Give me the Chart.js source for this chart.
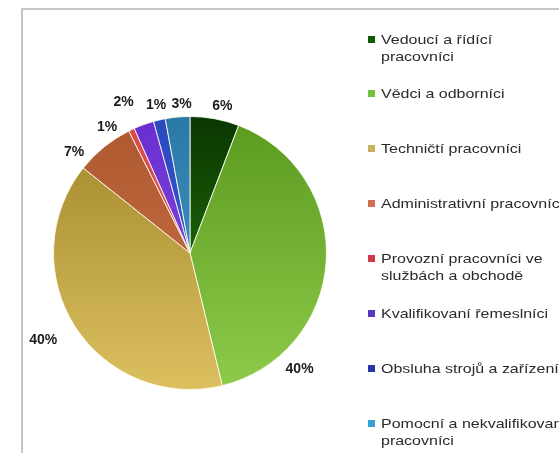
<!DOCTYPE html>
<html>
<head>
<meta charset="utf-8">
<script src="https://cdn.jsdelivr.net/npm/chart.js@4.4.1/dist/chart.umd.min.js"></script>
<style>
  html, body { margin: 0; padding: 0; background: #fff; overflow: hidden; width: 559px; height: 453px; }
  #frame { position: absolute; left: 21px; top: 8px; width: 600px; height: 500px;
           border-left: 2px solid #c6c6c6; border-top: 2px solid #c6c6c6; }
  #chart { position: absolute; left: 0; top: 0; }
  #legend { position: absolute; left: 0; top: 0; width: 559px; height: 453px; }
  .item { position: absolute; left: 368px; white-space: nowrap; font: 13px "Liberation Sans", Arial, sans-serif;
          color: #2b2b2b; line-height: 17px; }
  .sw { position: absolute; left: 0; top: 5px; width: 7px; height: 7px; }
  .txt { position: absolute; left: 13px; top: 0; transform: scaleX(1.23); transform-origin: 0 0; }
</style>
</head>
<body>
<div id="frame"></div>
<canvas id="chart" width="559" height="453"></canvas>
<div id="legend"></div>
<script>
const categories = [
  ['Vedoucí a řídící', 'pracovníci'],
  ['Vědci a odborníci'],
  ['Techničtí pracovníci'],
  ['Administrativní pracovníci'],
  ['Provozní pracovníci ve', 'službách a obchodě'],
  ['Kvalifikovaní řemeslníci'],
  ['Obsluha strojů a zařízení'],
  ['Pomocní a nekvalifikovaní', 'pracovníci']
];
const shares = [5.8, 40.4, 39.5, 6.9, 0.7, 2.4, 1.4, 2.9];
const shareLabels = ['6%', '40%', '40%', '7%', '1%', '2%', '1%', '3%'];

// gradient colours, darker at top
const topColors = ['#0a3600', '#5a9a20', '#a0862a', '#ae5830', '#d84848', '#6a2ed0', '#2a48c0', '#2a78a6'];
const bottomColors = ['#2a8a10', '#8ecb4a', '#dcc060', '#cc7448', '#e86262', '#8650e2', '#4262da', '#4aa2ce'];
const swatchColors = ['#0b5e00', '#78c040', '#c8b060', '#d07050', '#d03848', '#5838c0', '#2838a8', '#38a0d8'];

// label placement tweaks: [angle shift in degrees, distance beyond the rim]
const labelTweaks = [[2, 14], [43, 23], [2, 34], [-10, 17], [-8, 14], [-4, 28], [0, 15], [2, 13]];

const pctLabels = {
  id: 'pctLabels',
  afterDatasetsDraw(chart) {
    const ctx = chart.ctx;
    const arcs = chart.getDatasetMeta(0).data;
    ctx.save();
    ctx.font = 'bold 14px "Liberation Sans", Arial, sans-serif';
    ctx.fillStyle = '#1c1c1c';
    ctx.textAlign = 'center';
    ctx.textBaseline = 'middle';
    arcs.forEach((arc, i) => {
      const p = arc.getProps(['x', 'y', 'startAngle', 'endAngle', 'outerRadius'], true);
      const a = (p.startAngle + p.endAngle) / 2 + labelTweaks[i][0] * Math.PI / 180;
      const d = p.outerRadius + labelTweaks[i][1];
      ctx.fillText(shareLabels[i], p.x + Math.cos(a) * d, p.y + Math.sin(a) * d);
    });
    ctx.restore();
  }
};

new Chart(document.getElementById('chart'), {
  type: 'pie',
  data: {
    labels: categories,
    datasets: [{
      data: shares,
      backgroundColor: function(context) {
        const chart = context.chart;
        const area = chart.chartArea;
        const i = context.dataIndex;
        if (!area) return topColors[i];
        const g = chart.ctx.createLinearGradient(0, area.top, 0, area.bottom);
        g.addColorStop(0, topColors[i]);
        g.addColorStop(1, bottomColors[i]);
        return g;
      },
      borderColor: 'rgba(255,255,240,0.85)',
      borderWidth: 1
    }]
  },
  options: {
    responsive: false,
    animation: false,
    layout: { padding: { left: 53, right: 232, top: 116, bottom: 63 } },
    plugins: {
      legend: { display: false },
      tooltip: { enabled: false }
    }
  },
  plugins: [pctLabels]
});

// legend on the right
const legend = document.getElementById('legend');
categories.forEach((lines, i) => {
  const item = document.createElement('div');
  item.className = 'item';
  item.style.top = (30.5 + i * 54.9) + 'px';
  const sw = document.createElement('div');
  sw.className = 'sw';
  sw.style.background = swatchColors[i];
  const txt = document.createElement('div');
  txt.className = 'txt';
  txt.innerHTML = lines.join('<br>');
  item.appendChild(sw);
  item.appendChild(txt);
  legend.appendChild(item);
});
</script>
</body>
</html>
